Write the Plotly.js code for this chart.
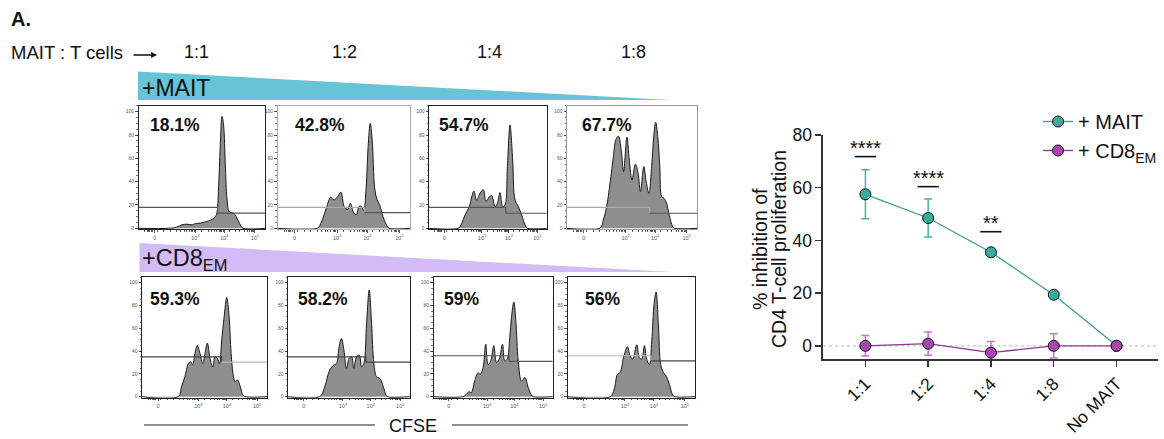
<!DOCTYPE html>
<html><head><meta charset="utf-8">
<script src="https://cdn.plot.ly/plotly-3.0.1.min.js"></script>
<style>html,body{margin:0;padding:0;background:#fff}#chart{width:1164px;height:439px}</style>
</head><body><div id="chart"></div>
<script>
// ---------- DATA ----------
const ratios = ['1:1','1:2','1:4','1:8','No MAIT'];
const maitMean = [57.5, 48.5, 35.5, 19.4, 0];
const maitErr  = [9.3, 7.2, 0.8, 0.8, 0];
const cd8Mean  = [0, 0.8, -2.6, 0, 0];
const cd8Err   = [3.9, 4.4, 4.2, 4.6, 0];
const sigLabels = ['****','****','**'];
const sigLevel  = [71.8, 60.4, 43.3];

const colLabels = ['1:1','1:2','1:4','1:8'];
const pctLabels = ['18.1%','42.8%','54.7%','67.7%','59.3%','58.2%','59%','56%'];

// CFSE histograms (x: % of axis width, y: % of max)
const mait11X = [0,23.6,30.3,34.3,38.3,42.4,45,49,53,57,59.8,61.7,63.3,64.6,66,67.3,68.6,70,71.8,75,77.2,80,82.6,100];
const mait11Y = [0,0,1,3,3.5,3,4,4.5,5.5,7,9,12,35,70,96,88,55,25,14,13,10,4,0,0];
const mait12X = [0,30,32.6,36.4,40.2,42.7,45.3,47.8,50.4,52.9,55,57.3,59.3,61.8,63.6,65.1,66.9,68.4,70,71.5,73.3,75,77.1,79.6,82.2,84.2,100];
const mait12Y = [0,0,4,15.7,26.6,24.3,27,31,18.6,16.3,21.4,14,11.4,19,18.5,15,35,70,90,75,35,25,20,10,3,0,0];
const mait14X = [0,24.9,27.8,30.6,34.3,36.3,38.2,40.5,43.3,46.2,48.4,51.3,53.3,56.1,58.1,60.3,62.6,64.6,66.6,68.8,71.1,73.1,75.9,78.8,81.6,83.6,100];
const mait14Y = [0,0,4.3,11.4,18.6,27,32,24,30,33,23,27,28,18.6,21.4,30.6,18.6,20,53,88.6,58.6,24.3,18.6,11.4,2.9,0,0];
const mait18X = [0,25.3,27.9,30.5,33.1,35.7,37.5,39.6,41.7,43.5,46.1,47.9,50,52.6,54.7,56.5,59.1,60.9,63,65.1,66.9,68.2,69.8,71.4,72.9,74.7,76.6,78.6,81.3,82.6,100];
const mait18Y = [0,0,7,18.6,38.6,61.4,75.7,79,67,48.6,78,58.6,41.4,55,47,31.4,53,40,30,53,81,91,78.6,53,27,25.7,21.4,11.4,1.4,0,0];
const cd811X = [0,29,31.6,34.3,37,38.9,40.5,42.4,44.2,46.4,48.5,50.4,52.3,54.4,56.6,58.4,60.3,61.9,63.8,65.7,67.8,69.7,71.3,73.2,74.5,76.4,78.6,80.7,82.6,100];
const cd811Y = [0,0,8.8,17.5,29,30.7,28,38,45,38,29,38,47,33.6,26,35,33.6,29,50,70,87,70,38,17.5,13,14.6,8.8,1.5,0,0];
const cd812X = [0,26,30.1,34.2,37.5,39.7,41.9,43.8,45.8,47.9,50.1,52.1,54,56.2,58.4,60.3,62.2,64.4,66.6,68.5,70.4,72.6,75.3,78.1,80.3,81.4,100];
const cd812Y = [0,0,8.8,23.4,27.8,29,43.9,51,41,24.9,33.6,35,24.9,35,36.5,26.3,29.2,64.3,93.6,64.3,29.2,17.5,16,8.8,1.5,0,0];
const cd814X = [0,24.7,27.5,29.8,31.7,34.6,37.4,39.3,41.6,43.8,45.8,48,50.6,52.8,55.1,57.9,59.8,61.8,64,65.4,67.4,69.1,71.1,73.9,76.7,79.5,82.3,83.7,100];
const cd814Y = [0,0,2,4.4,3.5,14,21,19.7,25.6,46,28.2,31.2,44.7,30,32.9,46,31.2,32.9,52,69.4,83,66,31.2,13.5,16.8,7.9,1.2,0,0];
const cd818X = [0,33.4,36.6,39.2,41.3,43.9,47,49.1,51.2,54.3,56.4,58.2,60.3,62.1,64.2,66.1,67.9,69.5,71.3,73.1,75.2,77.3,79.9,82.5,84.3,100];
const cd818Y = [0,0,6.5,19.7,21.2,34.4,43.8,35.9,32.9,45.6,34.4,32.9,44.7,32.9,28.2,49,81.5,91.8,63,28.2,21.2,18.2,10.9,1.5,0,0];

const gateX     = [62.5, 65.6, 65.2, 63.5, 63.8, 63.8, 63.5, 65.3];
const gateLeft  = [18, 18, 18, 18, 35, 35, 35.9, 35.9];
const gateRight = [13, 13.4, 12.9, 12.9, 30.4, 30.4, 30.9, 31.5];

const cfseTickVals = [12.9, 45, 67.8, 92];
const cfseTickText = ['0','10<sup>3</sup>','10<sup>4</sup>','10<sup>5</sup>'];
const countTicks = [0,20,40,60,80,100];

// ---------- LAYOUT HELPERS ----------
const W = 1164, H = 439;
const px = x => x / W;
const py = y => 1 - y / H;
const FONT = 'Liberation Sans, Arial, Helvetica, sans-serif';

const histX = [mait11X, mait12X, mait14X, mait18X, cd811X, cd812X, cd814X, cd818X];
const histY = [mait11Y, mait12Y, mait14Y, mait18Y, cd811Y, cd812Y, cd814Y, cd818Y];

// panel boxes in pixels
const panels = [
  {l:138.5, r:265,   zero:228.3, s:1.166},
  {l:277.5, r:410,   zero:228.3, s:1.166},
  {l:429,   r:546.7, zero:228.3, s:1.166},
  {l:567,   r:697,   zero:228.3, s:1.166},
  {l:142,   r:267,   zero:396.7, s:1.14},
  {l:288,   r:410,   zero:396.7, s:1.14},
  {l:433.5, r:552.7, zero:396.7, s:1.14},
  {l:567.5, r:695,   zero:396.7, s:1.14}
];
const frameCol  = ['#222','#aaa','#222','#999','#222','#222','#222','#222'];
const gateLCol  = ['#555','#aaa','#555','#aaa','#444','#444','#555','#bbb'];
const gateRCol  = ['#555','#555','#555','#555','#bbb','#444','#555','#444'];
const pctPos = [
  {x:148, y:125},{x:293, y:125},{x:437, y:125},{x:580, y:125},
  {x:148, y:299},{x:296, y:299},{x:442, y:299},{x:583, y:299}
];

const traces = [];
const layout = {
  width: W, height: H,
  margin: {l:0, r:0, t:0, b:0},
  paper_bgcolor: '#fff', plot_bgcolor: 'rgba(0,0,0,0)',
  font: {family: FONT, color: '#111'},
  showlegend: true,
  shapes: [], annotations: []
};

const yMin = -1, yMax = 105;
panels.forEach((p, i) => {
  const n = i + 1;
  const xa = 'xaxis' + n, ya = 'yaxis' + n;
  const bottom = p.zero - yMin * p.s, top = p.zero - yMax * p.s;
  layout[xa] = {
    domain: [px(p.l), px(p.r)], range: [0, 100], anchor: 'y' + n,
    showline: true, mirror: true, linecolor: frameCol[i], linewidth: 1,
    showgrid: false, zeroline: false,
    ticks: 'outside', ticklen: 2.5, tickwidth: 0.8, tickcolor: '#333',
    tickvals: cfseTickVals, ticktext: cfseTickText,
    tickfont: {size: 5.5, color: '#555'},
    minor: {tickvals: [5,7,8,9,10,11,15,20,25,30,33,36,38,40,42,43,44,50,55,58,60,62,64,65,66,67,72,77,80,84,86,88,89,90,91], ticklen: 1.5, tickcolor: '#333', ticks: 'outside'},
    fixedrange: true
  };
  layout[ya] = {
    domain: [py(bottom), py(top)], range: [yMin, yMax], anchor: 'x' + n,
    showline: true, mirror: true, linecolor: frameCol[i], linewidth: 1,
    showgrid: false, zeroline: false,
    ticks: 'outside', ticklen: 2.5, tickwidth: 0.8, tickcolor: '#333',
    tickvals: countTicks, tickfont: {size: 5, color: '#555'},
    minor: {dtick: 5, ticklen: 1.2, tickcolor: '#555', ticks: 'outside'},
    fixedrange: true
  };
  traces.push({
    x: histX[i], y: histY[i], xaxis: 'x' + n, yaxis: 'y' + n,
    type: 'scatter', mode: 'lines', fill: 'tozeroy',
    fillcolor: '#8e8e8e', line: {color: '#1a1a1a', width: 1, shape: 'spline', smoothing: 1.0},
    showlegend: false, hoverinfo: 'skip'
  });
  traces.push({
    x: [0, gateX[i], gateX[i]], y: [gateLeft[i], gateLeft[i], gateRight[i]],
    xaxis: 'x' + n, yaxis: 'y' + n, type: 'scatter', mode: 'lines',
    line: {color: gateLCol[i], width: 1.2}, showlegend: false, hoverinfo: 'skip'
  });
  traces.push({
    x: [gateX[i], 100], y: [gateRight[i], gateRight[i]],
    xaxis: 'x' + n, yaxis: 'y' + n, type: 'scatter', mode: 'lines',
    line: {color: gateRCol[i], width: 1.2}, showlegend: false, hoverinfo: 'skip'
  });
  layout.annotations.push({
    xref: 'paper', yref: 'paper', x: px(pctPos[i].x), y: py(pctPos[i].y),
    xanchor: 'left', yanchor: 'middle', showarrow: false,
    text: '<b>' + pctLabels[i] + '</b>', font: {size: 17.5, color: '#111', family: FONT}
  });
});

// ---------- MAIN LINE CHART ----------
const MX0 = 823, MX1 = 1158, MY0 = 359, MY1 = 135;
layout.xaxis9 = {
  domain: [px(MX0), px(MX1)], range: [-0.675, 4.66], anchor: 'y9', type: 'category',
  showline: true, linecolor: '#333', linewidth: 1.6, showgrid: false, zeroline: false,
  ticks: 'outside', ticklen: 6, tickwidth: 1.4, tickcolor: '#333',
  tickangle: -45, tickfont: {size: 17.5, family: FONT, color: '#111'}, fixedrange: true
};
layout.yaxis9 = {
  domain: [py(MY0), py(MY1)], range: [-5, 80], anchor: 'x9',
  showline: true, linecolor: '#333', linewidth: 1.6, showgrid: false, zeroline: false,
  ticks: 'outside', ticklen: 6, tickwidth: 1.4, tickcolor: '#333',
  tickvals: [0,20,40,60,80], tickfont: {size: 17.5, family: FONT, color: '#111'}, fixedrange: true
};
// dotted zero reference line
layout.shapes.push({type:'line', xref:'x9 domain', yref:'y9', x0:0, x1:1, y0:0, y1:0,
  line:{color:'#c8c8c8', width:1.2, dash:'dot'}, layer:'below'});

traces.push({
  name: '+ MAIT', x: ratios, y: maitMean, xaxis: 'x9', yaxis: 'y9',
  type: 'scatter', mode: 'lines+markers',
  line: {color: '#3a9e8c', width: 1.3},
  marker: {size: 11, color: '#3aab9f', line: {color: '#111', width: 1}},
  error_y: {type: 'data', array: maitErr, visible: true, color: '#49b3a5', thickness: 1.5, width: 4},
  cliponaxis: false, hoverinfo: 'skip'
});
traces.push({
  name: '+ CD8<sub>EM</sub>', x: ratios, y: cd8Mean, xaxis: 'x9', yaxis: 'y9',
  type: 'scatter', mode: 'lines+markers',
  line: {color: '#8a3a8e', width: 1.3},
  marker: {size: 11, color: '#a845b3', line: {color: '#111', width: 1}},
  error_y: {type: 'data', array: cd8Err, visible: true, color: '#c772d0', thickness: 1.5, width: 4},
  hoverinfo: 'skip'
});

sigLabels.forEach((s, i) => {
  layout.shapes.push({type:'line', xref:'x9', yref:'y9', x0:i-0.17, x1:i+0.17,
    y0:sigLevel[i], y1:sigLevel[i], line:{color:'#111', width:1.6}});
  layout.annotations.push({xref:'x9', yref:'y9', x:i, y:sigLevel[i], xanchor:'center', yanchor:'bottom',
    yshift: -4, showarrow:false, text:s, font:{size:20, family:FONT, color:'#111'}});
});

// y title (two lines, tight spacing)
layout.annotations.push({xref:'paper', yref:'paper', x:px(760), y:py(249), xanchor:'center', yanchor:'middle', textangle:-90,
  showarrow:false, text:'% inhibition of', font:{size:19.5, family:FONT, color:'#111'}});
layout.annotations.push({xref:'paper', yref:'paper', x:px(779), y:py(249), xanchor:'center', yanchor:'middle', textangle:-90,
  showarrow:false, text:'CD4 T-cell proliferation', font:{size:19.5, family:FONT, color:'#111'}});

layout.legend = {
  x: px(1038), y: py(102), xanchor: 'left', yanchor: 'top',
  bgcolor: 'rgba(0,0,0,0)', font: {size: 20, family: FONT, color: '#111'}
};

// ---------- HEADER / DECORATIONS ----------
layout.annotations.push({xref:'paper', yref:'paper', x:px(9), y:py(19), xanchor:'left', yanchor:'middle',
  showarrow:false, text:'<b>A.</b>', font:{size:20, family:FONT, color:'#111'}});
layout.annotations.push({xref:'paper', yref:'paper', x:px(9), y:py(52), xanchor:'left', yanchor:'middle',
  showarrow:false, text:'MAIT : T cells', font:{size:18.5, family:FONT, color:'#111'}});
layout.annotations.push({xref:'paper', yref:'paper', x:px(157), y:py(55), ax:-25, ay:0,
  showarrow:true, arrowhead:2, arrowsize:0.9, arrowwidth:1.3, arrowcolor:'#111', text:''});
const colX = [196, 344, 489, 633];
colLabels.forEach((c, i) => layout.annotations.push({xref:'paper', yref:'paper', x:px(colX[i]), y:py(52),
  xanchor:'center', yanchor:'middle', showarrow:false, text:c, font:{size:18, family:FONT, color:'#111'}}));

// wedges
const tri = (pts) => 'M ' + pts.map(p => px(p[0]) + ',' + py(p[1])).join(' L ') + ' Z';
layout.shapes.push({type:'path', xref:'paper', yref:'paper', path: tri([[138,71.5],[670,100],[138,100]]),
  fillcolor:'#67c4d6', line:{width:0}, layer:'below'});
layout.shapes.push({type:'path', xref:'paper', yref:'paper', path: tri([[139.5,243],[673,272],[139.5,272]]),
  fillcolor:'#d3bbf5', line:{width:0}, layer:'below'});
layout.annotations.push({xref:'paper', yref:'paper', x:px(140), y:py(88.5), xanchor:'left', yanchor:'middle',
  showarrow:false, text:'+MAIT', font:{size:23, family:FONT, color:'#111'}});
layout.annotations.push({xref:'paper', yref:'paper', x:px(140), y:py(259), xanchor:'left', yanchor:'middle',
  showarrow:false, text:'+CD8<sub>EM</sub>', font:{size:23.5, family:FONT, color:'#111'}});

// CFSE label & lines
layout.annotations.push({xref:'paper', yref:'paper', x:px(413), y:py(426), xanchor:'center', yanchor:'middle',
  showarrow:false, text:'CFSE', font:{size:18, family:FONT, color:'#111'}});
layout.shapes.push({type:'line', xref:'paper', yref:'paper', x0:px(144), x1:px(375), y0:py(425), y1:py(425), line:{color:'#222', width:1.2}});
layout.shapes.push({type:'line', xref:'paper', yref:'paper', x0:px(452), x1:px(688), y0:py(425), y1:py(425), line:{color:'#222', width:1.2}});

Plotly.newPlot('chart', traces, layout, {staticPlot: true, displayModeBar: false});
</script></body></html>
